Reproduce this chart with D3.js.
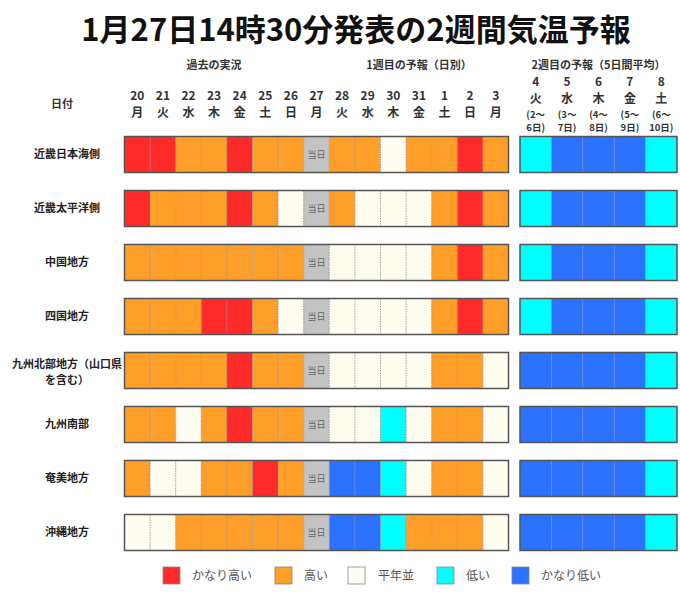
<!DOCTYPE html>
<html>
<head>
<meta charset="utf-8">
<script src="https://cdn.jsdelivr.net/npm/d3@7"></script>
<style>
  body { margin: 0; background: #fff; }
  svg { display: block; font-family: "Noto Sans CJK JP", "Noto Sans", sans-serif; }
</style>
</head>
<body>
<svg id="chart" width="680" height="594"></svg>
<script>
(function(){
    'use strict';

    // 2 = かなり高い, 1 = 高い, 0 = 平年並, -1 = 低い, -2 = かなり低い, 'T' = 当日
    const regions = ['近畿日本海側', '近畿太平洋側', '中国地方', '四国地方',
        '九州北部地方（山口県|を含む）', '九州南部', '奄美地方', '沖縄地方'];

    const days = ['20', '21', '22', '23', '24', '25', '26', '27', '28', '29', '30', '31', '1', '2', '3'];
    const weekdays = ['月', '火', '水', '木', '金', '土', '日', '月', '火', '水', '木', '金', '土', '日', '月'];

    const weekDays = ['4', '5', '6', '7', '8'];
    const weekWeekdays = ['火', '水', '木', '金', '土'];
    const weekRangeTop = ['(2〜', '(3〜', '(4〜', '(5〜', '(6〜'];
    const weekRangeBottom = ['6日)', '7日)', '8日)', '9日)', '10日)'];

    const dailyValues = [
        [2, 2, 1, 1, 2, 1, 1, 'T', 1, 1, 0, 1, 1, 2, 1],
        [2, 1, 1, 1, 2, 1, 0, 'T', 1, 0, 0, 0, 1, 2, 1],
        [1, 1, 1, 1, 1, 1, 1, 'T', 0, 0, 0, 0, 1, 2, 1],
        [1, 1, 1, 2, 2, 1, 0, 'T', 0, 0, 0, 0, 1, 2, 1],
        [1, 1, 1, 1, 2, 1, 1, 'T', 0, 0, 0, 0, 1, 1, 0],
        [1, 1, 0, 1, 2, 1, 1, 'T', 0, 0, -1, 0, 1, 1, 0],
        [1, 0, 0, 1, 1, 2, 1, 'T', -2, -2, -1, 0, 1, 1, 0],
        [0, 0, 1, 1, 1, 1, 1, 'T', -2, -2, -1, 1, 1, 1, 0]
    ];

    const weekValues = [
        [-1, -2, -2, -2, -1],
        [-1, -2, -2, -2, -1],
        [-1, -2, -2, -2, -1],
        [-1, -2, -2, -2, -1],
        [-2, -2, -2, -2, -1],
        [-2, -2, -2, -2, -1],
        [-2, -2, -2, -2, -1],
        [-2, -2, -2, -2, -1]
    ];

    const legendCodes = [2, 1, 0, -1, -2];
    const legendLabels = ['かなり高い', '高い', '平年並', '低い', 'かなり低い'];

    const color = d3.scaleOrdinal()
        .domain([2, 1, 0, -1, -2, 'T'])
        .range(['#ff2a2a', '#ff9f2a', '#fffdf0', '#00ffff', '#2a72ff', '#c3c3c3']);

    const svg = d3.select('#chart');

    const x1 = d3.scaleBand().domain(d3.range(days.length)).range([124.5, 508.5]);
    const x2 = d3.scaleBand().domain(d3.range(weekDays.length)).range([520, 677]);
    const y = d3.scaleBand().domain(d3.range(regions.length)).range([136.5, 550.5]).paddingInner(0.333);

    // Title
    svg.append('text')
        .attr('x', 356).attr('y', 41)
        .attr('text-anchor', 'middle')
        .attr('font-size', 31).attr('font-weight', 'bold')
        .attr('fill', '#111')
        .text('1月27日14時30分発表の2週間気温予報');

    // Section headers
    const headerG = svg.append('g').attr('font-size', 11).attr('font-weight', 'bold')
        .attr('fill', '#333').attr('text-anchor', 'middle');
    headerG.append('text').attr('x', (x1(0) + x1(6) + x1.bandwidth()) / 2).attr('y', 69).text('過去の実況');
    headerG.append('text').attr('x', (x1(8) + x1(14) + x1.bandwidth()) / 2).attr('y', 69).text('1週目の予報（日別）');
    headerG.append('text').attr('x', (x2(0) + x2(4) + x2.bandwidth()) / 2).attr('y', 69).text('2週目の予報（5日間平均）');
    headerG.append('text').attr('x', 62).attr('y', 108).text('日付');

    // Daily column labels
    const dayLab = svg.append('g').attr('font-size', 12).attr('font-weight', 'bold')
        .attr('fill', '#333').attr('text-anchor', 'middle');
    dayLab.selectAll('text.num').data(days).enter().append('text')
        .attr('class', 'num')
        .attr('x', (d, i) => x1(i) + x1.bandwidth() / 2).attr('y', 100)
        .text(d => d);
    dayLab.selectAll('text.wd').data(weekdays).enter().append('text')
        .attr('class', 'wd')
        .attr('x', (d, i) => x1(i) + x1.bandwidth() / 2).attr('y', 117)
        .text(d => d);

    // Week 2 column labels
    const wkLab = svg.append('g').attr('fill', '#333').attr('text-anchor', 'middle').attr('font-weight', 'bold');
    const wc = (d, i) => x2(i) + x2.bandwidth() / 2;
    wkLab.selectAll('text.num').data(weekDays).enter().append('text')
        .attr('class', 'num').attr('font-size', 12)
        .attr('x', wc).attr('y', 86).text(d => d);
    wkLab.selectAll('text.wd').data(weekWeekdays).enter().append('text')
        .attr('class', 'wd').attr('font-size', 12)
        .attr('x', wc).attr('y', 103).text(d => d);
    wkLab.selectAll('text.rt').data(weekRangeTop).enter().append('text')
        .attr('class', 'rt').attr('font-size', 9.5)
        .attr('x', wc).attr('y', 118).text(d => d);
    wkLab.selectAll('text.rb').data(weekRangeBottom).enter().append('text')
        .attr('class', 'rb').attr('font-size', 9.5)
        .attr('x', wc).attr('y', 131).text(d => d);

    // Row labels
    const rowLab = svg.append('g').attr('font-size', 11).attr('font-weight', 'bold')
        .attr('fill', '#222').attr('text-anchor', 'middle');
    rowLab.selectAll('text').data(regions).enter().append('text')
        .attr('x', 67)
        .attr('y', (d, i) => y(i) + y.bandwidth() / 2)
        .each(function(d){
            const lines = d.split('|');
            const t = d3.select(this);
            lines.forEach((line, k) => {
                t.append('tspan')
                    .attr('x', 67)
                    .attr('dy', k === 0 ? (lines.length > 1 ? '-0.2em' : '0.35em') : '1.45em')
                    .text(line);
            });
        });

    // Grids
    function drawGrid(values, x, n){
        const g = svg.append('g');
        values.forEach((row, r) => {
            const rg = g.append('g').attr('transform', `translate(0, ${y(r)})`);
            rg.selectAll('rect.cell').data(row).enter().append('rect')
                .attr('class', 'cell')
                .attr('x', (d, i) => x(i))
                .attr('y', 0)
                .attr('width', x.bandwidth())
                .attr('height', y.bandwidth())
                .attr('fill', d => color(d));
            rg.selectAll('text.today').data(row.map((d, i) => [d, i]).filter(p => p[0] === 'T'))
                .enter().append('text')
                .attr('class', 'today')
                .attr('x', p => x(p[1]) + x.bandwidth() / 2)
                .attr('y', y.bandwidth() / 2)
                .attr('dy', '0.35em')
                .attr('text-anchor', 'middle')
                .attr('font-size', 9).attr('fill', '#666')
                .text('当日');
            rg.selectAll('line.div').data(d3.range(1, n)).enter().append('line')
                .attr('class', 'div')
                .attr('x1', i => x(i)).attr('x2', i => x(i))
                .attr('y1', 0).attr('y2', y.bandwidth())
                .attr('stroke', '#8a8a8a').attr('stroke-width', 0.8)
                .attr('stroke-dasharray', '1.5,1');
            rg.append('rect')
                .attr('x', x.range()[0]).attr('y', 0)
                .attr('width', x.range()[1] - x.range()[0])
                .attr('height', y.bandwidth())
                .attr('fill', 'none')
                .attr('stroke', '#555').attr('stroke-width', 1.5);
        });
    }
    drawGrid(dailyValues, x1, days.length);
    drawGrid(weekValues, x2, weekDays.length);

    // Legend
    const legendX = [163, 275, 348, 437, 512];
    const lg = svg.append('g');
    const items = lg.selectAll('g').data(legendCodes).enter().append('g')
        .attr('transform', (d, i) => `translate(${legendX[i]}, 567)`);
    items.append('rect')
        .attr('width', 17).attr('height', 17)
        .attr('fill', d => color(d))
        .attr('stroke', '#888').attr('stroke-width', 0.8);
    items.append('text')
        .attr('x', (d, i) => i === 2 ? 30 : 29)
        .attr('y', 9).attr('dy', '0.35em')
        .attr('font-size', 12).attr('fill', '#555')
        .text((d, i) => legendLabels[i]);
})();
</script>
</body>
</html>
